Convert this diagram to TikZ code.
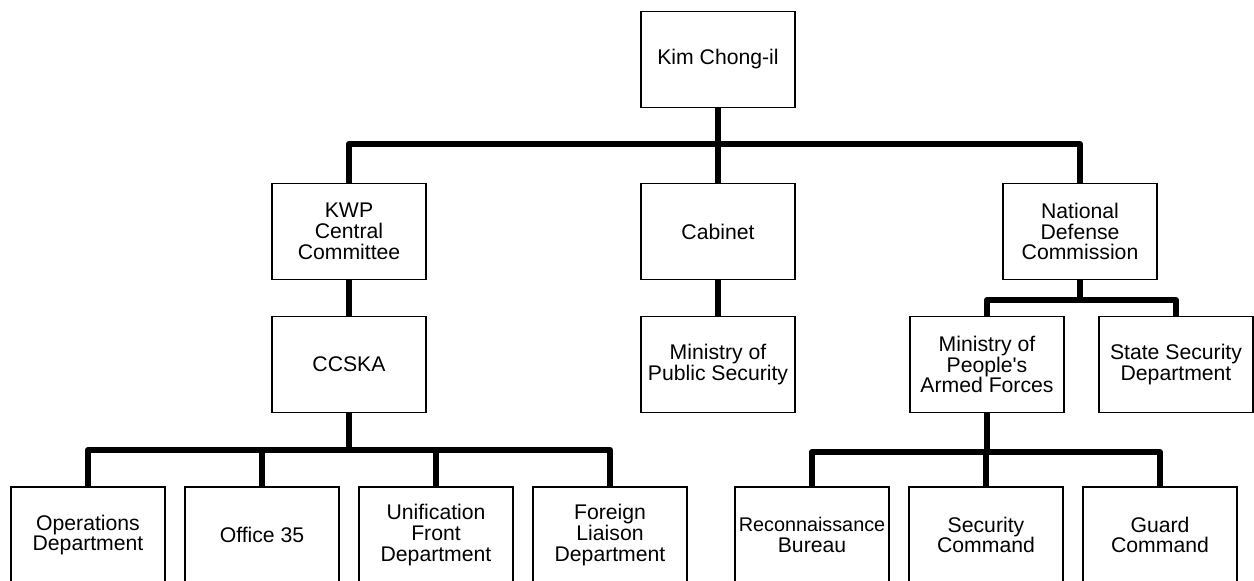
\documentclass[tikz,border=0pt]{standalone}
\usepackage{fontspec}
\setmainfont{Liberation Sans}
\usepackage{tikz}

\begin{document}
\begin{tikzpicture}[x=0.5pt,y=-0.5pt,node distance=87pt,
		unit/.style={draw,line width=0.8pt,minimum width=77pt,minimum height=48pt,inner sep=1pt,align=center,font=\fontsize{10.6}{10.4}\selectfont},
		link/.style={line width=3pt,line join=round}]
		\useasboundingbox (0,0) rectangle (1254,581);

		\node[unit] (kim)   at (718,59.5)   {Kim Chong-il};
		\node[unit] (kwp)   at (349,231.5)  {KWP\\Central\\Committee};
		\node[unit] (cab)   at (718,231.5)  {Cabinet};
		\node[unit] (ndc)   at (1080,231.5) {National\\Defense\\Commission};
		\node[unit] (ccska) at (349,364.5)  {CCSKA};
		\node[unit] (mps)   at (718,364.5)  {Ministry of\\Public Security};
		\node[unit] (mpaf)  at (987,364.5)  {Ministry of\\People\textquotesingle s\\Armed Forces};
		\node[unit] (ssd)   at (1176,364.5) {State Security\\Department};

		\node[unit] (ops)   at (88,535)            {Operations\\Department};
		\node[unit] (off35) [right of = ops]   {Office 35};
		\node[unit] (ufd)   [right of = off35] {Unification\\Front\\Department};
		\node[unit] (fld)   [right of = ufd]   {Foreign\\Liaison\\Department};

		\node[unit] (recon) at (812,535)           {{\fontsize{9.9}{10.4}\selectfont Reconnaissance}\\Bureau};
		\node[unit] (secc)  [right of = recon] {Security\\Command};
		\node[unit] (guard) [right of = secc]  {Guard\\Command};

		\coordinate (topbar) at (718,144);
		\coordinate (ndcbar) at (1080,300);
		\coordinate (ccbar)  at (349,450);
		\coordinate (mbar)   at (987,452);

		\draw[link] (kim) -- (topbar);
		\draw[link] (kwp) |- (topbar) -| (ndc);
		\draw[link] (topbar) -- (cab);
		\draw[link] (cab) -- (mps);
		\draw[link] (kwp) -- (ccska);
		\draw[link] (ndc) -- (ndcbar);
		\draw[link] (mpaf) |- (ndcbar) -| (ssd);
		\draw[link] (ccska) -- (ccbar);
		\foreach \n in {ops,off35,ufd,fld}
			\draw[link] (ccbar) -| (\n);
		\draw[link] (mpaf) -- (mbar);
		\foreach \n in {recon,secc,guard}
			\draw[link] (mbar) -| (\n);
	\end{tikzpicture}
\end{document}
